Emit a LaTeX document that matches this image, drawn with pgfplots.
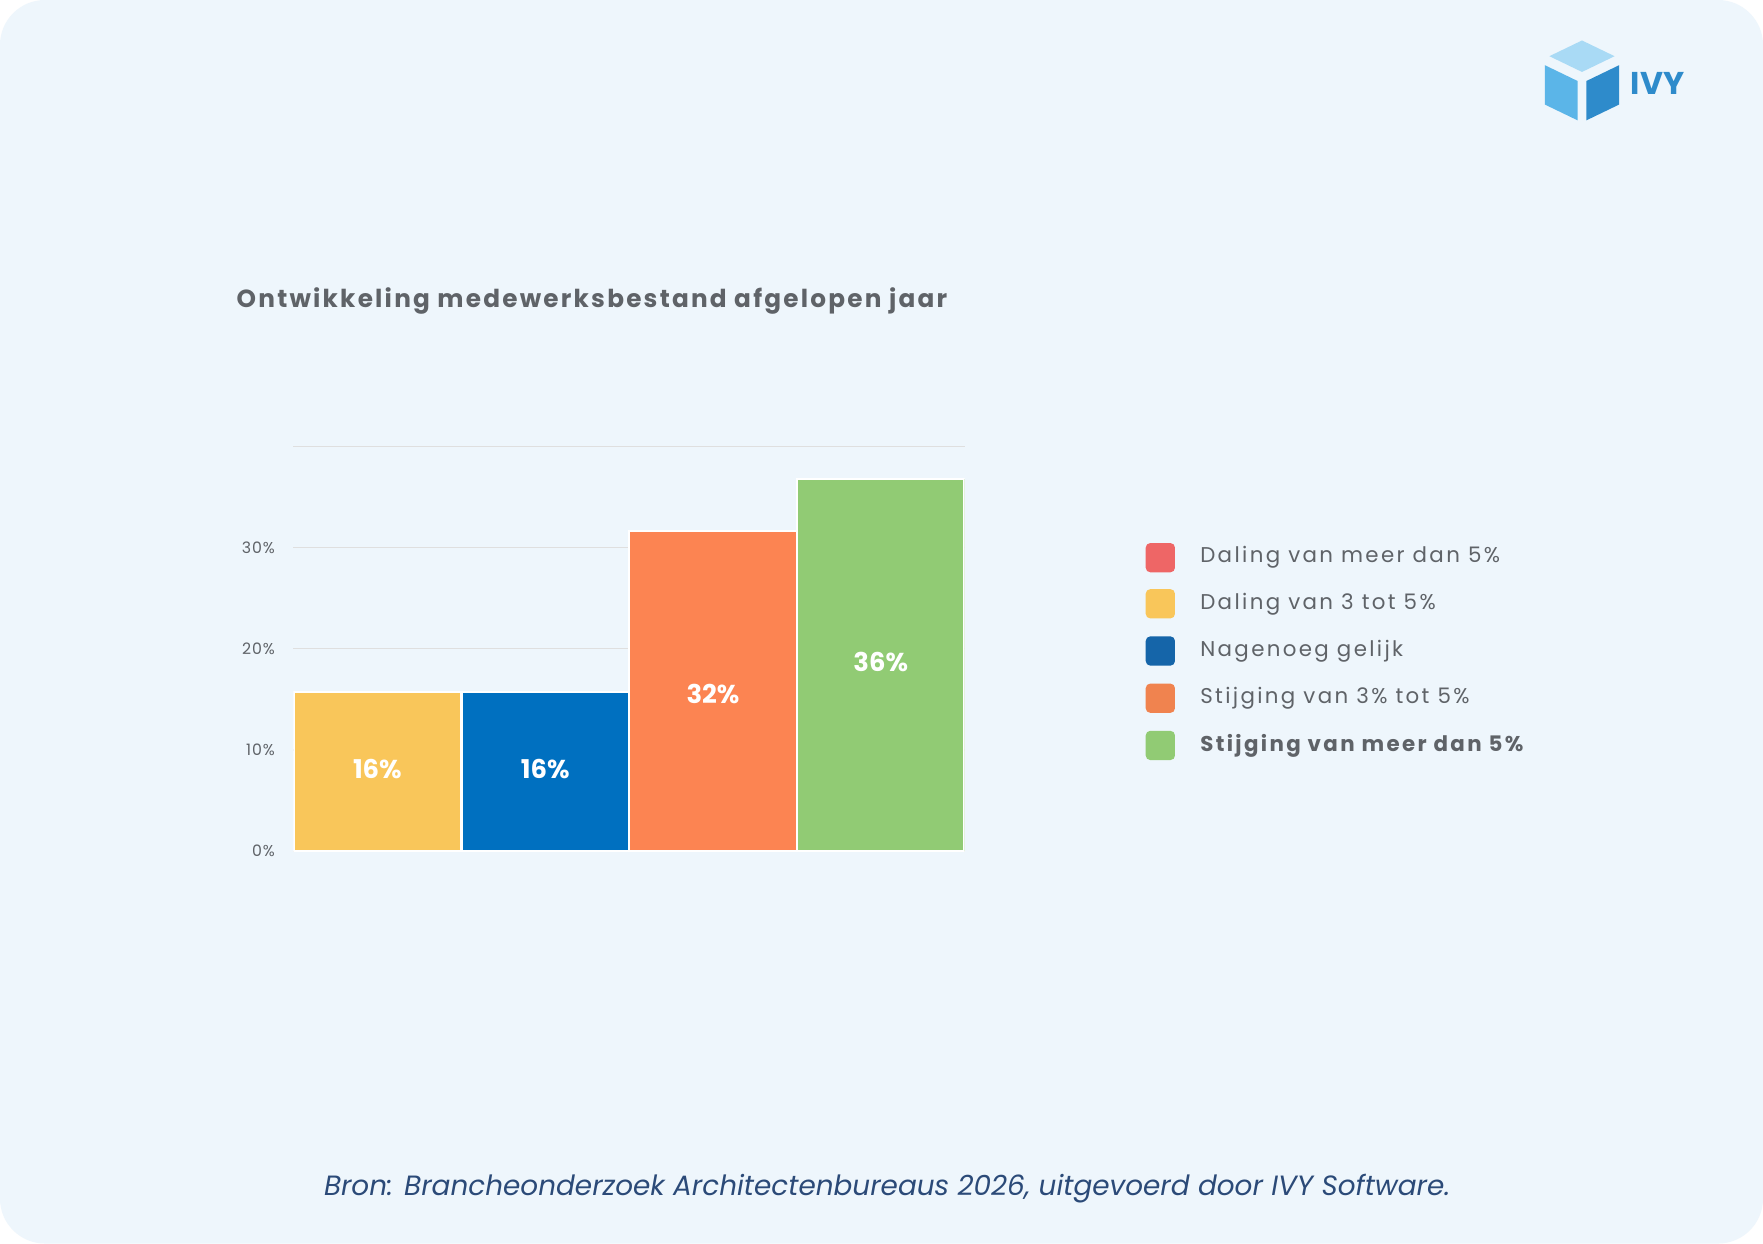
\documentclass[border=0pt]{standalone}
\usepackage{pgfplots}
\pgfplotsset{compat=1.18}
\usepackage{fontspec}
\setmainfont{Poppins}
\newfontfamily\legfont[LetterSpace=11]{Poppins}
\newfontfamily\titfont[LetterSpace=9]{Poppins}
\newfontfamily\tickfont[LetterSpace=6]{Poppins}
\definecolor{bg}{HTML}{EEF6FC}
\definecolor{txt}{HTML}{5F6368}
\definecolor{cy}{HTML}{F9C65A}
\definecolor{cb}{HTML}{0070C0}
\definecolor{co}{HTML}{FC8452}
\definecolor{cg}{HTML}{91CB74}
\definecolor{cr}{HTML}{EE6666}
\definecolor{lb}{HTML}{1565A9}
\definecolor{lo}{HTML}{F0834F}
\definecolor{src}{HTML}{2B4A78}
\definecolor{logo1}{HTML}{A9DAF5}
\definecolor{logo2}{HTML}{5BB5E8}
\definecolor{logo3}{HTML}{2E8BCB}
\begin{document}
\begin{tikzpicture}[x=1pt,y=1pt]
\fill[white] (0,0) rectangle (1568,1106);
\fill[bg,rounded corners=40pt] (0,0) rectangle (1568,1106);
% logo
\fill[logo1] (1378,1056) -- (1407,1070) -- (1436,1056) -- (1407,1042) -- cycle;
\fill[logo2] (1374,1048) -- (1403,1034) -- (1403,999) -- (1374,1013) -- cycle;
\fill[logo3] (1411,1034) -- (1440,1048) -- (1440,1013) -- (1411,999) -- cycle;
\node[anchor=west,text=logo3,font=\fontsize{28}{30}\selectfont\bfseries] at (1447,1032) {IVY};
% title
\node[anchor=west,text=txt,font=\titfont\fontsize{22}{24}\selectfont\bfseries] at (207,838) {Ontwikkeling medewerksbestand afgelopen jaar};
\begin{axis}[at={(261pt,349pt)},anchor=south west,scale only axis,width=597pt,height=360pt,
  xmin=-0.5,xmax=3.5,ymin=0,ymax=40,
  axis line style={draw=none},
  ybar,bar width=149pt,bar shift=0pt,
  ytick={0,10,20,30,40},yticklabels={0\%,10\%,20\%,30\%,},
  ymajorgrids,grid style={draw=gray!25,line width=1pt},
  xtick=\empty,
  yticklabel style={text=txt,font=\tickfont\fontsize{14}{16}\selectfont,xshift=-13pt},
  tick style={draw=none},
  /pgf/number format/assume math mode=true]
\addplot[fill=cy,draw=white,line width=2pt] coordinates {(0,15.7)};
\addplot[fill=cb,draw=white,line width=2pt] coordinates {(1,15.7)};
\addplot[fill=co,draw=white,line width=2pt] coordinates {(2,31.6)};
\addplot[fill=cg,draw=white,line width=2pt] coordinates {(3,36.8)};
\addplot[draw=none,mark=none,point meta=explicit symbolic,nodes near coords,
  every node near coord/.style={anchor=center,text=white,font=\fontsize{23}{25}\selectfont\bfseries}]
  coordinates {(0,8.1)[16\%] (1,8.1)[16\%] (2,15.5)[32\%] (3,18.7)[36\%]};
\end{axis}
% legend
\foreach \y/\c/\t in {610/cr/Daling van meer dan 5\%,569/cy/Daling van 3 tot 5\%,527/lb/Nagenoeg gelijk,485/lo/Stijging van 3\% tot 5\%}{
  \fill[\c,rounded corners=4pt] (1019,\y-13) rectangle (1045,\y+13);
  \node[anchor=west,text=txt,font=\legfont\fontsize{19}{22}\selectfont] at (1064,\y) {\t};
}
\fill[cg,rounded corners=4pt] (1019,430) rectangle (1045,456);
\node[anchor=west,text=txt,font=\legfont\fontsize{19}{22}\selectfont\bfseries] at (1064,443) {Stijging van meer dan 5\%};
% source
\node[text=src,font=\fontsize{24.8}{27}\selectfont\itshape] at (789,49) {Bron: Brancheonderzoek Architectenbureaus 2026, uitgevoerd door IVY Software.};
\end{tikzpicture}
\end{document}
